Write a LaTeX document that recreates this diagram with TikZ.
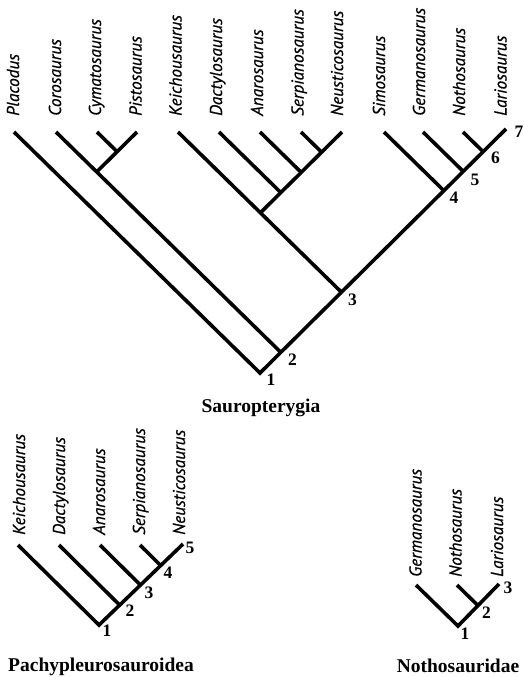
\documentclass[tikz,border=0pt]{standalone}
\usepackage{fontspec}
\setmainfont{Liberation Serif}
\newfontfamily\taxfont[FakeBold=0.7]{PT Sans}
\usetikzlibrary{calc}
\begin{document}
\begin{tikzpicture}[x=1pt,y=-1pt,
  branch/.style={line width=3.6pt, line join=miter},
  taxon/.style={rotate=90, anchor=base west, inner sep=0pt, font=\taxfont\fontsize{17.2}{17.2}\selectfont\itshape},
  num/.style={inner sep=0pt, anchor=center, font=\fontsize{17.5}{17.5}\selectfont\bfseries},
  cladetitle/.style={inner sep=0pt, anchor=base, font=\fontsize{19.5}{19.5}\selectfont\bfseries}]
\useasboundingbox (0,0) rectangle (523,677);

% ---------- Sauropterygia ----------
\coordinate (R1) at (260,373);
\foreach \n/\x/\y in {1/14/132,2/56/132,3/97/132,4/137/132,5/178/132,6/219/132,7/260/132,8/301/132,9/342/132,10/384/132,11/423/132,12/463/132,13/506/129}{
  \coordinate (A\n) at (\x,\y);
  \coordinate (Ar\n) at ($(A\n)+(300,294)$);
  \coordinate (Al\n) at ($(A\n)+(-300,297)$);
}
\coordinate (N2) at (intersection of A2--Ar2 and R1--A13);
\coordinate (JCP) at (intersection of A3--Ar3 and A4--Al4);
\coordinate (JC) at (intersection of A4--Al4 and A2--Ar2);
\coordinate (N3) at (intersection of A5--Ar5 and R1--A13);
\coordinate (JK) at (intersection of A9--Al9 and A5--Ar5);
\coordinate (JD) at (intersection of A6--Ar6 and A9--Al9);
\coordinate (JA) at (intersection of A7--Ar7 and A9--Al9);
\coordinate (JS) at (intersection of A8--Ar8 and A9--Al9);
\coordinate (N4) at (intersection of A10--Ar10 and R1--A13);
\coordinate (N5) at (intersection of A11--Ar11 and R1--A13);
\coordinate (N6) at (intersection of A12--Ar12 and R1--A13);

\draw[branch] (A1) -- (R1) -- (A13);
\draw[branch] (A2) -- (N2);
\draw[branch] (A3) -- (JCP);
\draw[branch] (A4) -- (JC);
\draw[branch] (A5) -- (N3);
\draw[branch] (A9) -- (JK);
\draw[branch] (A6) -- (JD);
\draw[branch] (A7) -- (JA);
\draw[branch] (A8) -- (JS);
\draw[branch] (A10) -- (N4);
\draw[branch] (A11) -- (N5);
\draw[branch] (A12) -- (N6);

\node[taxon] (tA1) at (19,116) {Placodus};
\node[taxon] (tA2) at (61,116) {Corosaurus};
\node[taxon] (tA3) at (101,116) {Cymatosaurus};
\node[taxon] (tA4) at (141.5,116) {Pistosaurus};
\node[taxon] (tA5) at (181.5,116) {Keichousaurus};
\node[taxon] (tA6) at (222,116) {Dactylosaurus};
\node[taxon] (tA7) at (263,116) {Anarosaurus};
\node[taxon] (tA8) at (303.5,116) {Serpianosaurus};
\node[taxon] (tA9) at (343,116) {Neusticosaurus};
\node[taxon] (tA10) at (385,116) {Simosaurus};
\node[taxon] (tA11) at (425,116) {Germanosaurus};
\node[taxon] (tA12) at (465,116) {Nothosaurus};
\node[taxon] (tA13) at (506.5,116) {Lariosaurus};

\node[num] (n1a) at (271,380) {1};
\node[num] (n2a) at (292.5,360) {2};
\node[num] (n3a) at (352.5,299.5) {3};
\node[num] (n4a) at (454,198) {4};
\node[num] (n5a) at (475,180) {5};
\node[num] (n6a) at (495.5,157.5) {6};
\node[num] (n7a) at (519,132) {7};
\node[cladetitle] (ttl1) at (261,412) {Sauropterygia};

% ---------- Pachypleurosauroidea ----------
\coordinate (R2) at (99,625);
\foreach \n/\x/\y in {1/18/545,2/59/545,3/100/545,4/140/545,5/183/544}{
  \coordinate (B\n) at (\x,\y);
  \coordinate (Br\n) at ($(B\n)+(200,198)$);
}
\coordinate (M2) at (intersection of B2--Br2 and R2--B5);
\coordinate (M3) at (intersection of B3--Br3 and R2--B5);
\coordinate (M4) at (intersection of B4--Br4 and R2--B5);
\draw[branch] (B1) -- (R2) -- (B5);
\draw[branch] (B2) -- (M2);
\draw[branch] (B3) -- (M3);
\draw[branch] (B4) -- (M4);

\node[taxon] (tB1) at (25,535) {Keichousaurus};
\node[taxon] (tB2) at (65,535) {Dactylosaurus};
\node[taxon] (tB3) at (105,535) {Anarosaurus};
\node[taxon] (tB4) at (145,535) {Serpianosaurus};
\node[taxon] (tB5) at (185,535) {Neusticosaurus};

\node[num] (n1b) at (107,631) {1};
\node[num] (n2b) at (130,611) {2};
\node[num] (n3b) at (149,592.5) {3};
\node[num] (n4b) at (168,573) {4};
\node[num] (n5b) at (190,548) {5};
\node[cladetitle] (ttl2) at (101,671) {Pachypleurosauroidea};

% ---------- Nothosauridae ----------
\coordinate (R3) at (458,626);
\foreach \n/\x/\y in {1/416/585,2/457/585,3/499/584}{
  \coordinate (C\n) at (\x,\y);
  \coordinate (Cr\n) at ($(C\n)+(100,98)$);
}
\coordinate (K2) at (intersection of C2--Cr2 and R3--C3);
\draw[branch] (C1) -- (R3) -- (C3);
\draw[branch] (C2) -- (K2);

\node[taxon] (tC1) at (421.5,577) {Germanosaurus};
\node[taxon] (tC2) at (461.5,577) {Nothosaurus};
\node[taxon] (tC3) at (503,577) {Lariosaurus};

\node[num] (n1c) at (465,634) {1};
\node[num] (n2c) at (486.5,612.5) {2};
\node[num] (n3c) at (508,588) {3};
\node[cladetitle] (ttl3) at (458,672) {Nothosauridae};
\end{tikzpicture}
\end{document}
